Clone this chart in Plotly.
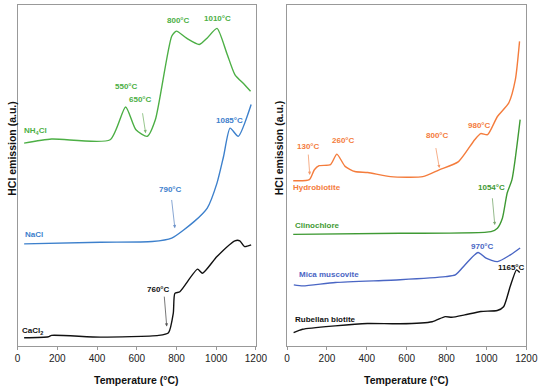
import plotly.graph_objects as go

# ---------------- data (left panel) ----------------
nh4cl_T = [33, 171, 466, 544, 596, 653, 694, 776, 800, 849, 915, 955, 1004, 1053, 1094, 1143, 1173]
nh4cl_y = [59.4, 60.6, 60.4, 70.0, 63.3, 61.4, 66.3, 90.7, 92.2, 90.2, 88.3, 90.2, 93.0, 85.8, 79.5, 76.5, 74.6]

nacl_T = [33, 417, 678, 776, 890, 955, 1004, 1037, 1070, 1111, 1176]
nacl_y = [29.9, 30.4, 30.6, 31.6, 36.5, 40.4, 47.7, 55.5, 63.8, 61.4, 70.7]

cacl2_T = [33, 155, 171, 417, 710, 760, 784, 792, 817, 906, 931, 1004, 1094, 1119, 1143, 1176]
cacl2_y = [2.4, 2.7, 3.1, 2.6, 3.1, 3.9, 9.6, 15.4, 15.9, 22.5, 21.3, 26.2, 30.8, 30.8, 29.1, 29.6]

# ---------------- data (right panel) ----------------
hydro_T = [31, 112, 137, 161, 218, 250, 291, 340, 405, 519, 681, 763, 860, 941, 971, 1006, 1055, 1112, 1145, 1166]
hydro_y = [48.4, 48.7, 51.6, 52.8, 53.1, 56.2, 52.6, 51.1, 50.8, 49.6, 49.6, 51.6, 54.0, 60.4, 62.2, 61.9, 67.2, 71.2, 78.0, 89.2]

clino_T = [31, 567, 1023, 1055, 1080, 1104, 1128, 1169]
clino_y = [32.7, 33.0, 33.5, 34.5, 37.4, 44.8, 48.7, 66.3]

mica_T = [34, 80, 242, 567, 795, 844, 893, 958, 998, 1055, 1120, 1169]
mica_y = [17.9, 17.6, 18.6, 19.4, 20.3, 20.8, 23.8, 27.4, 25.7, 24.7, 26.7, 28.7]

rub_T = [33, 78, 241, 403, 566, 728, 793, 826, 891, 972, 1054, 1086, 1119, 1151, 1167]
rub_y = [3.9, 4.9, 5.9, 6.6, 6.5, 7.1, 8.6, 8.4, 9.1, 10.1, 10.4, 11.5, 17.4, 22.3, 21.5]

x_ticks = [0, 200, 400, 600, 800, 1000, 1200]

GREEN = "#4caf45"
GREEN2 = "#3f9a34"
BLUE = "#3d80cc"
BLUE2 = "#4a66c4"
ORANGE = "#f47c3c"
BLACK = "#111111"

fig = go.Figure()

def add(T, y, color, xa, ya):
    fig.add_trace(go.Scatter(x=T, y=y, mode="lines", line=dict(color=color, width=1.4, shape="spline", smoothing=0.6),
                             xaxis=xa, yaxis=ya, showlegend=False, hoverinfo="skip"))

add(nh4cl_T, nh4cl_y, GREEN, "x", "y")
add(nacl_T, nacl_y, BLUE, "x", "y")
add(cacl2_T, cacl2_y, BLACK, "x", "y")
add(hydro_T, hydro_y, ORANGE, "x2", "y2")
add(clino_T, clino_y, GREEN2, "x2", "y2")
add(mica_T, mica_y, BLUE2, "x2", "y2")
add(rub_T, rub_y, BLACK, "x2", "y2")

FONT = "Liberation Sans, Arial, sans-serif"
ann = []

def label(x, y, text, color, xr="x", yr="y", size=8):
    ann.append(dict(x=x, y=y, xref=xr, yref=yr, text="<b>%s</b>" % text, showarrow=False,
                    font=dict(family=FONT, size=size, color=color)))

def arrow(x0, y0, x1, y1, color, xr="x", yr="y"):
    ann.append(dict(x=x1, y=y1, ax=x0, ay=y0, xref=xr, yref=yr, axref=xr, ayref=yr, text="",
                    showarrow=True, arrowhead=2, arrowsize=0.8, arrowwidth=0.8, arrowcolor=color))

# left panel labels
label(547, 76.1, "550°C", GREEN)
label(621, 72.2, "650°C", GREEN)
arrow(628, 68.6, 645, 62.3, "#7cb870")
label(808, 95.3, "800°C", GREEN)
label(1009, 95.8, "1010°C", GREEN)
label(88, 63.0, "NH<sub>4</sub>Cl", GREEN)
label(1069, 66.0, "1085°C", BLUE)
label(770, 45.9, "790°C", BLUE)
arrow(775, 43.2, 792, 34.5, "#6a90c8")
label(82, 32.7, "NaCl", BLUE)
label(710, 16.4, "760°C", BLACK)
arrow(738, 14.9, 751, 5.7, "#555555")
label(73, 4.5, "CaCl<sub>2</sub>", BLACK)

# right panel labels
label(106, 58.4, "130°C", ORANGE, "x2", "y2")
arrow(106, 56.5, 114, 50.1, "#f49a6c", "x2", "y2")
label(281, 60.3, "260°C", ORANGE, "x2", "y2")
label(753, 61.5, "800°C", ORANGE, "x2", "y2")
arrow(745, 58.4, 764, 52.1, "#f49a6c", "x2", "y2")
label(964, 64.5, "980°C", ORANGE, "x2", "y2")
label(151, 46.4, "Hydrobiotite", ORANGE, "x2", "y2")
label(1026, 46.4, "1054°C", GREEN2, "x2", "y2")
arrow(1029, 43.7, 1042, 35.4, "#7aa86e", "x2", "y2")
label(151, 35.2, "Clinochlore", GREEN2, "x2", "y2")
label(980, 29.1, "970°C", BLUE2, "x2", "y2")
label(208, 21.0, "Mica muscovite", BLUE2, "x2", "y2")
label(1127, 23.0, "1165°C", BLACK, "x2", "y2")
label(195, 7.8, "Rubellan biotite", BLACK, "x2", "y2")

# axis titles
for xp in [9 / 550, 284 / 550]:
    ann.append(dict(x=xp, y=(389 - 148) / 389, xref="paper", yref="paper", text="<b>HCl emission (a.u.)</b>",
                    textangle=-90, xanchor="center", yanchor="middle", showarrow=False,
                    font=dict(family=FONT, size=10.5, color="#111")))
for xp in [(15 + 260) / 2 / 550, (292 + 538) / 2 / 550]:
    ann.append(dict(x=xp, y=(389 - 380) / 389, xref="paper", yref="paper", text="<b>Temperature (°C)</b>",
                    xanchor="center", yanchor="middle", showarrow=False,
                    font=dict(family=FONT, size=10.5, color="#111")))

ydom = [(389 - 346) / 389, (389 - 4.5) / 389]
xcommon = dict(range=[0, 1200], tickvals=x_ticks, ticktext=[str(v) for v in x_ticks], showgrid=False,
               zeroline=False, showline=True, linecolor="#999", linewidth=1, mirror=True,
               ticks="outside", ticklen=3, tickcolor="#999", ticklabeloverflow="allow",
               tickfont=dict(family=FONT, size=10, color="#222"))
ycommon = dict(range=[0, 100], showticklabels=False, showgrid=False, zeroline=False, showline=True,
               linecolor="#999", linewidth=1, mirror=True, ticks="", domain=ydom)

fig.update_layout(
    width=550, height=389, margin=dict(l=0, r=0, t=0, b=0),
    paper_bgcolor="white", plot_bgcolor="white",
    xaxis=dict(domain=[15 / 550, 260 / 550], anchor="y", **xcommon),
    yaxis=dict(anchor="x", **ycommon),
    xaxis2=dict(domain=[292 / 550, 538 / 550], anchor="y2", **xcommon),
    yaxis2=dict(anchor="x2", **ycommon),
    annotations=ann,
)

fig.write_html("out.html", config={"displayModeBar": False},
               post_script="document.body.style.margin='0';document.body.style.overflow='hidden';")
